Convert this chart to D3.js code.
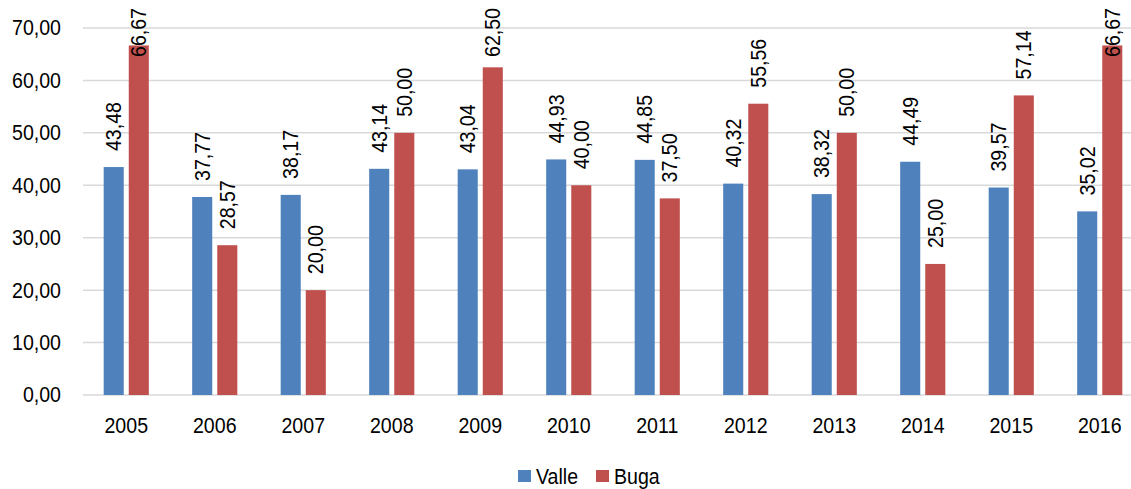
<!DOCTYPE html>
<html>
<head>
<meta charset="utf-8">
<script src="https://cdn.jsdelivr.net/npm/d3@7"></script>
<style>
  body { margin: 0; background: #fff; }
  svg { display: block; font-family: "Liberation Sans", Arial, sans-serif; }
</style>
</head>
<body>
<svg id="chart"></svg>
<script>
var years = ["2005", "2006", "2007", "2008", "2009", "2010", "2011", "2012", "2013", "2014", "2015", "2016"];
var valle = [43.48, 37.77, 38.17, 43.14, 43.04, 44.93, 44.85, 40.32, 38.32, 44.49, 39.57, 35.02];
var buga = [66.67, 28.57, 20.00, 50.00, 62.50, 40.00, 37.50, 55.56, 50.00, 25.00, 57.14, 66.67];
var seriesNames = ["Valle", "Buga"];
var seriesColors = ["#4F81BD", "#C0504D"];
var yTicks = [0, 10, 20, 30, 40, 50, 60, 70];

var width = 1131, height = 489;
var fontSize = "21.5px";
var fmt = function (v) { return v.toFixed(2).replace(".", ","); };

// the source font is a bit narrower than Liberation Sans, so squeeze it
function squeeze(sel) {
    sel.each(function () {
        var w = this.getComputedTextLength();
        d3.select(this).attr("textLength", w * 0.91).attr("lengthAdjust", "spacingAndGlyphs");
    });
}

var svg = d3.select("#chart").attr("width", width).attr("height", height);

var x = d3.scaleBand().domain(years).range([82, 1144]).paddingInner(0.49).paddingOuter(0.245);
var xs = d3.scaleBand().domain(seriesNames).range([0, x.bandwidth()]).paddingInner(0.2);
var y = d3.scaleLinear().domain([0, 70]).range([395, 28]);

// gridlines
svg.append("g").selectAll("line")
    .data(yTicks)
    .enter().append("line")
    .attr("x1", 83).attr("x2", width)
    .attr("y1", function (d) { return y(d); })
    .attr("y2", function (d) { return y(d); })
    .style("stroke", "#d9d9d9")
    .style("stroke-width", 1.5);

// y axis labels
var yAxis = d3.axisLeft(y).tickValues(yTicks).tickFormat(fmt).tickSize(0).tickPadding(0);
svg.append("g")
    .attr("transform", "translate(61,0)")
    .call(yAxis)
    .call(function (g) { g.select(".domain").remove(); })
    .selectAll("text")
    .style("font-size", fontSize)
    .style("font-family", "'Liberation Sans', Arial, sans-serif")
    .style("fill", "#000")
    .call(squeeze);

// x axis labels
var xAxis = d3.axisBottom(x).tickSize(0).tickPadding(0);
svg.append("g")
    .attr("transform", "translate(0,433)")
    .call(xAxis)
    .call(function (g) { g.select(".domain").remove(); })
    .selectAll("text")
    .attr("dy", "0")
    .style("font-size", fontSize)
    .style("font-family", "'Liberation Sans', Arial, sans-serif")
    .style("fill", "#000")
    .call(squeeze);

var rows = years.map(function (yr, i) {
    return { year: yr, values: [valle[i], buga[i]] };
});

var group = svg.append("g").selectAll("g")
    .data(rows)
    .enter().append("g")
    .attr("transform", function (d) { return "translate(" + x(d.year) + ",0)"; });

var cells = group.selectAll("g")
    .data(function (d) {
        return d.values.map(function (v, k) { return { name: seriesNames[k], color: seriesColors[k], value: v }; });
    })
    .enter().append("g");

cells.append("rect")
    .attr("x", function (d) { return xs(d.name); })
    .attr("width", xs.bandwidth())
    .attr("y", function (d) { return y(d.value); })
    .attr("height", function (d) { return y(0) - y(d.value); })
    .style("fill", function (d) { return d.color; });

// rotated value labels, kept inside the top of the chart
var labelLen = 49;
cells.append("text")
    .attr("transform", function (d) {
        var bottom = y(d.value) - 16;
        if (bottom - labelLen < 8) bottom = 8 + labelLen;
        var cx = xs(d.name) + xs.bandwidth() / 2;
        return "translate(" + cx + "," + bottom + ") rotate(-90)";
    })
    .attr("dy", "0.35em")
    .attr("text-anchor", "start")
    .style("font-size", fontSize)
    .style("fill", "#000")
    .text(function (d) { return fmt(d.value); })
    .call(squeeze);

// legend
var legend = svg.append("g").attr("transform", "translate(518,470)");
var items = [{ name: "Valle", color: seriesColors[0], x: 0 }, { name: "Buga", color: seriesColors[1], x: 78 }];
var li = legend.selectAll("g").data(items).enter().append("g")
    .attr("transform", function (d) { return "translate(" + d.x + ",0)"; });
li.append("rect").attr("width", 13).attr("height", 12).style("fill", function (d) { return d.color; });
li.append("text").attr("x", 18).attr("y", 6).attr("dy", "0.35em")
    .style("font-size", fontSize).style("fill", "#000")
    .text(function (d) { return d.name; })
    .call(squeeze);
</script>
</body>
</html>
